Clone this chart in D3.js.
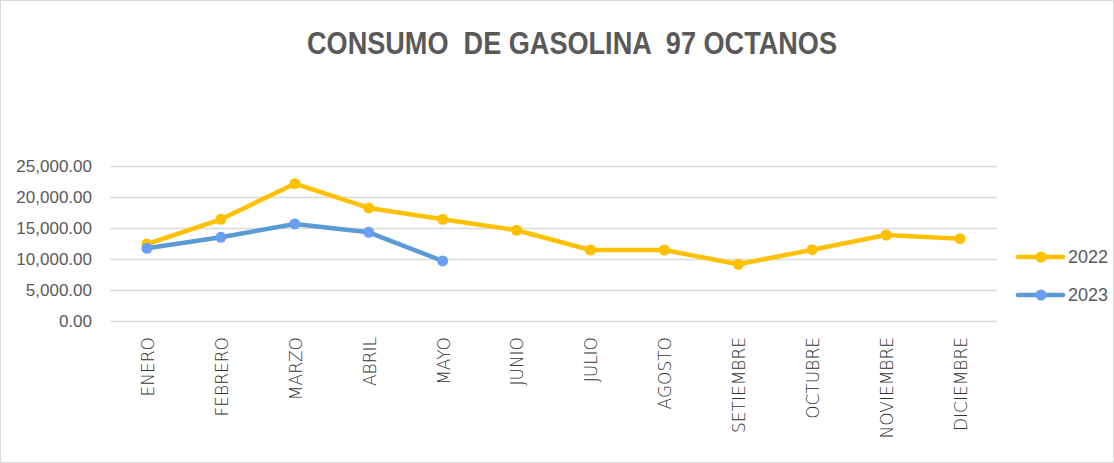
<!DOCTYPE html>
<html lang="es">
<head>
<meta charset="UTF-8">
<title>Consumo de gasolina 97 octanos</title>
<style>
    * { margin: 0; padding: 0; }
    body { background: #fff; }
    svg { display: block; }
</style>
<script src="https://cdn.jsdelivr.net/npm/d3@7"></script>
</head>
<body>
<div id="chart"></div>
<script>
    // datos
    var meses = ['ENERO', 'FEBRERO', 'MARZO', 'ABRIL', 'MAYO', 'JUNIO', 'JULIO',
                 'AGOSTO', 'SETIEMBRE', 'OCTUBRE', 'NOVIEMBRE', 'DICIEMBRE'];
    var valores2022 = [12400, 16400, 22150, 18230, 16400, 14630, 11450, 11450, 9140, 11500, 13870, 13280];
    var valores2023 = [11720, 13500, 15650, 14300, 9680];
    var yTicks = [0, 5000, 10000, 15000, 20000, 25000];

    var w = 1114,
        h = 463,
        plotLeft = 110,
        plotRight = 997,
        plotTop = 166,
        plotBottom = 321;

    var svg = d3.select('#chart').append('svg')
        .attr('width', w)
        .attr('height', h);

    svg.append('rect')
        .attr('x', 0.5).attr('y', 0.5)
        .attr('width', w - 1).attr('height', h - 1)
        .attr('fill', '#fff')
        .attr('stroke', '#d9d9d9');

    svg.append('text')
        .attr('x', 307)
        .attr('y', 54)
        .attr('textLength', 530)
        .attr('lengthAdjust', 'spacingAndGlyphs')
        .style('font-family', '"Liberation Sans", Arial, sans-serif')
        .style('font-size', '31px')
        .style('font-weight', 'bold')
        .style('fill', '#595959')
        .style('white-space', 'pre')
        .text('CONSUMO  DE GASOLINA  97 OCTANOS');

    var x = d3.scaleBand().domain(meses).range([plotLeft, plotRight]);
    var y = d3.scaleLinear().domain([0, 25000]).range([plotBottom, plotTop]);

    // grid
    svg.append('g')
        .selectAll('line')
        .data(yTicks)
        .enter()
        .append('line')
        .attr('x1', plotLeft)
        .attr('x2', plotRight)
        .attr('y1', (d) => Math.round(y(d)) + 0.5)
        .attr('y2', (d) => Math.round(y(d)) + 0.5)
        .attr('stroke', '#d9d9d9')
        .attr('stroke-width', 1.3);

    // eje Y
    var yAxis = d3.axisLeft(y)
        .tickValues(yTicks)
        .tickSize(0)
        .tickPadding(0)
        .tickFormat(d3.format(',.2f'));
    var gy = svg.append('g')
        .attr('transform', 'translate(92,0)')
        .call(yAxis);
    gy.select('.domain').remove();
    gy.selectAll('text')
        .style('font-family', '"Liberation Sans", Arial, sans-serif')
        .style('font-size', '17px')
        .style('fill', '#595959');

    // eje X
    var xAxis = d3.axisBottom(x).tickSize(0).tickPadding(0);
    var gx = svg.append('g')
        .attr('transform', 'translate(0,' + plotBottom + ')')
        .call(xAxis);
    gx.select('.domain').remove();
    gx.selectAll('text')
        .attr('transform', 'rotate(-90)')
        .attr('x', -16)
        .attr('y', 1)
        .attr('dy', '0.35em')
        .attr('text-anchor', 'end')
        .style('font-family', '"DejaVu Sans", sans-serif')
        .style('font-size', '17px')
        .style('font-weight', '200')
        .style('fill', '#333');

    var cx = (d, i) => x(meses[i]) + x.bandwidth() / 2;

    var series = [
        { nombre: '2022', datos: valores2022, linea: '#ffc000', punto: '#ffc000' },
        { nombre: '2023', datos: valores2023, linea: '#5b9bd5', punto: '#699ef2' }
    ];

    var line = d3.line()
        .x(cx)
        .y((d) => y(d));

    series.forEach(function (s) {
        svg.append('path')
            .datum(s.datos)
            .attr('d', line)
            .attr('fill', 'none')
            .attr('stroke', s.linea)
            .attr('stroke-width', 4.5)
            .attr('stroke-linejoin', 'round')
            .attr('stroke-linecap', 'round');
        svg.append('g')
            .selectAll('circle')
            .data(s.datos)
            .enter()
            .append('circle')
            .attr('cx', cx)
            .attr('cy', (d) => y(d))
            .attr('r', 5.5)
            .attr('fill', s.punto);
    });

    // leyenda
    var legend = svg.append('g')
        .selectAll('g')
        .data(series)
        .enter()
        .append('g')
        .attr('transform', (d, i) => 'translate(1018,' + (257 + i * 38) + ')');
    legend.append('line')
        .attr('x1', 0).attr('x2', 45)
        .attr('stroke', (d) => d.linea)
        .attr('stroke-width', 4.5)
        .attr('stroke-linecap', 'round');
    legend.append('circle')
        .attr('cx', 23)
        .attr('r', 5.5)
        .attr('fill', (d) => d.punto);
    legend.append('text')
        .attr('x', 50)
        .attr('dy', '0.36em')
        .style('font-family', '"Liberation Sans", Arial, sans-serif')
        .style('font-size', '18px')
        .style('fill', '#595959')
        .text((d) => d.nombre);
</script>
</body>
</html>
